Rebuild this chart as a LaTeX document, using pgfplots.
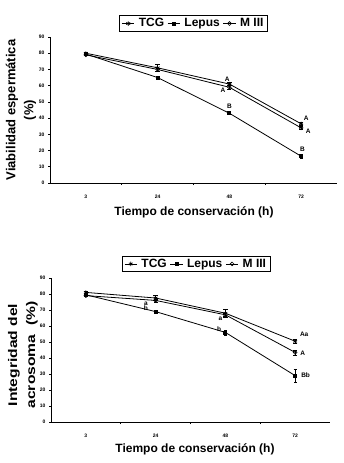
\documentclass[border=0pt]{standalone}
\usepackage{fontspec}
\setmainfont{Liberation Sans}
\usepackage{pgfplots}
\pgfplotsset{compat=1.18}
\begin{document}
\begin{tikzpicture}
\useasboundingbox (0,-463pt) rectangle (344pt,0);
\pgfplotsset{
 myax/.style={
  scale only axis, axis x line=bottom, axis y line=left,
  axis line style={-, line width=0.8pt},
  xmin=-0.5, xmax=3.5, ymin=0, ymax=90, ytick={0,10,...,90},
  xtick={0.5,1.5,2.5}, xticklabels={},
  extra x ticks={0,1,2,3}, extra x tick labels={3,24,48,72},
  extra x tick style={major tick length=0pt, xticklabel style={yshift=-8pt}},
  tick align=outside, major tick length=2pt,
  tick style={black, line width=0.6pt},
  ticklabel style={font=\fontsize{5}{5}\selectfont\bfseries},
  /pgf/number format/assume math mode=true,
  clip=false,
  legend columns=3,
  legend style={font=\fontsize{12}{13}\selectfont\bfseries, draw=black, line width=0.8pt,
     inner xsep=2pt, inner ysep=1pt, /tikz/every even column/.append style={column sep=1pt},
     /tikz/every odd column/.append style={column sep=2pt}},
  legend image code/.code={\draw[mark repeat=2,mark phase=2] plot coordinates {(0cm,0cm)(0.22cm,0cm)(0.44cm,0cm)};},
 },
 tcg/.style={black, line width=0.8pt, mark=asterisk, mark size=2.2pt, mark options={line width=0.7pt}},
 lep/.style={black, line width=0.8pt, mark=square*, mark size=1.5pt},
 m3/.style={black, line width=0.8pt, mark=o, mark size=1.9pt, mark options={fill=white, line width=0.6pt}},
}
% ---------------- top chart
\begin{axis}[myax, width=287pt, height=146pt, at={(50pt,-183pt)}, anchor=south west,
  legend style={at={(0.5,1.035)}, anchor=south}]
\addplot[tcg, error bars/.cd, y dir=both, y explicit, error bar style={black, line width=0.6pt}] coordinates {(0,80) +- (0,0.6) (1,71) +- (0,2) (2,61) +- (0,1) (3,36.5) +- (0,1)};
\addlegendentry{TCG}
\addplot[lep, error bars/.cd, y dir=both, y explicit, error bar style={black, line width=0.6pt}] coordinates {(0,79.5) +- (0,0.5) (1,65) +- (0,0.8) (2,43) +- (0,0.8) (3,16.5) +- (0,1)};
\addlegendentry{Lepus}
\addplot[m3, error bars/.cd, y dir=both, y explicit, error bar style={black, line width=0.6pt}] coordinates {(0,79) +- (0,0.5) (1,70) +- (0,1) (2,59) +- (0,1) (3,34) +- (0,1)};
\addlegendentry{M III}
\begin{scope}[every node/.style={font=\fontsize{6.5}{7}\selectfont\bfseries}]
\node at (axis cs:1.97,63.8) {A};
\node at (axis cs:1.91,57.3) {A};
\node at (axis cs:2,47.5) {B};
\node at (axis cs:3.07,40) {A};
\node at (axis cs:3.1,32) {A};
\node at (axis cs:3.02,20.5) {B};
\end{scope}
\end{axis}
\node[rotate=90, align=center, font=\fontsize{13}{18}\selectfont\bfseries] at (21pt,-110pt) {Viabilidad espermática\\(\%)};
\node[font=\fontsize{12}{14}\selectfont\bfseries] at (194pt,-212pt) {Tiempo de conservación (h)};
% ---------------- bottom chart
\begin{axis}[myax, width=279pt, height=144pt, at={(51pt,-422pt)}, anchor=south west,
  legend style={at={(0.52,1.04)}, anchor=south}]
\addplot[tcg, error bars/.cd, y dir=both, y explicit, error bar style={black, line width=0.6pt}] coordinates {(0,81) +- (0,0.6) (1,77.5) +- (0,1.5) (2,68) +- (0,2.5) (3,50.5) +- (0,1.5)};
\addlegendentry{TCG}
\addplot[lep, error bars/.cd, y dir=both, y explicit, error bar style={black, line width=0.6pt}] coordinates {(0,79.5) +- (0,0.6) (1,69) +- (0,1) (2,56) +- (0,1.5) (3,29) +- (0,4)};
\addlegendentry{Lepus}
\addplot[m3, error bars/.cd, y dir=both, y explicit, error bar style={black, line width=0.6pt}] coordinates {(0,79) +- (0,0.6) (1,76) +- (0,1) (2,67) +- (0,1) (3,43.5) +- (0,1.5)};
\addlegendentry{M III}
\begin{scope}[every node/.style={font=\fontsize{6.5}{7}\selectfont\bfseries}]
\node at (axis cs:0.86,74) {a};
\node at (axis cs:0.86,71) {b};
\node at (axis cs:1.93,64.7) {a};
\node at (axis cs:1.91,57.9) {b};
\node at (axis cs:3.13,54.8) {Aa};
\node at (axis cs:3.11,43) {A};
\node at (axis cs:3.15,29) {Bb};
\end{scope}
\end{axis}
\node[rotate=90, xscale=1.25, align=center, font=\fontsize{12.5}{18}\selectfont\bfseries] at (23pt,-355pt) {Integridad del\\acrosoma\ \ (\%)};
\node[font=\fontsize{12}{14}\selectfont\bfseries] at (195pt,-449pt) {Tiempo de conservación (h)};
\end{tikzpicture}
\end{document}
